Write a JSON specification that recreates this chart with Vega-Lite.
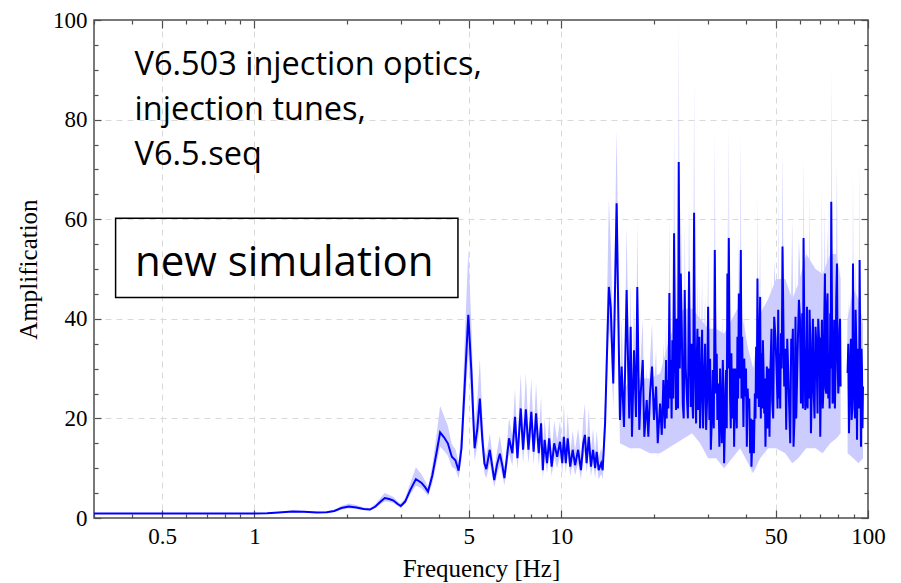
{
  "$schema": "https://vega.github.io/schema/vega-lite/v6.json",
  "width": 774,
  "height": 498,
  "autosize": {"type": "none"},
  "padding": {"left": 94, "top": 20, "right": 33, "bottom": 65},
  "background": "white",
  "config": {
    "view": {"stroke": "#4d4d4d", "strokeWidth": 1.5},
    "axis": {
      "labelFont": "Liberation Serif",
      "titleFont": "Liberation Serif",
      "labelFontSize": 23,
      "titleFontSize": 25,
      "labelColor": "black",
      "titleColor": "black",
      "titleFontWeight": "normal",
      "domain": false,
      "tickColor": "#4d4d4d",
      "tickWidth": 1.2,
      "gridColor": "#d9d9d9",
      "gridDash": [6, 5],
      "gridWidth": 1,
      "labelOverlap": false,
      "labelFlush": false,
      "format": "~r"
    }
  },
  "datasets": {
    "spectrum": [
      {"f": 0.3, "a": 0.9, "lo": 0.8, "hi": 1.0},
      {"f": 0.4, "a": 0.9, "lo": 0.8, "hi": 1.0},
      {"f": 0.5, "a": 0.9, "lo": 0.8, "hi": 1.0},
      {"f": 0.6, "a": 0.9, "lo": 0.8, "hi": 1.0},
      {"f": 0.7, "a": 0.9, "lo": 0.8, "hi": 1.0},
      {"f": 0.8, "a": 0.9, "lo": 0.8, "hi": 1.0},
      {"f": 0.9, "a": 0.9, "lo": 0.8, "hi": 1.0},
      {"f": 1.0, "a": 0.9, "lo": 0.8, "hi": 1.0},
      {"f": 1.1, "a": 0.95, "lo": 0.85, "hi": 1.05},
      {"f": 1.2, "a": 1.1, "lo": 1.0, "hi": 1.25},
      {"f": 1.33, "a": 1.3, "lo": 1.15, "hi": 1.5},
      {"f": 1.45, "a": 1.25, "lo": 1.1, "hi": 1.4},
      {"f": 1.6, "a": 1.1, "lo": 1.0, "hi": 1.25},
      {"f": 1.72, "a": 1.15, "lo": 1.0, "hi": 1.3},
      {"f": 1.82, "a": 1.4, "lo": 1.2, "hi": 1.6},
      {"f": 1.92, "a": 2.0, "lo": 1.7, "hi": 2.4},
      {"f": 2.03, "a": 2.3, "lo": 1.9, "hi": 2.9},
      {"f": 2.15, "a": 2.1, "lo": 1.8, "hi": 2.6},
      {"f": 2.27, "a": 1.8, "lo": 1.6, "hi": 2.1},
      {"f": 2.38, "a": 1.7, "lo": 1.5, "hi": 2.0},
      {"f": 2.48, "a": 2.3, "lo": 2.0, "hi": 2.8},
      {"f": 2.58, "a": 3.3, "lo": 2.8, "hi": 4.1},
      {"f": 2.66, "a": 4.0, "lo": 3.3, "hi": 5.0},
      {"f": 2.75, "a": 3.8, "lo": 3.2, "hi": 4.6},
      {"f": 2.84, "a": 3.5, "lo": 3.0, "hi": 4.2},
      {"f": 2.93, "a": 2.8, "lo": 2.4, "hi": 3.3},
      {"f": 3.0, "a": 2.4, "lo": 2.0, "hi": 2.9},
      {"f": 3.1, "a": 3.3, "lo": 2.8, "hi": 4.0},
      {"f": 3.22, "a": 5.6, "lo": 4.7, "hi": 7.0},
      {"f": 3.36, "a": 7.8, "lo": 6.5, "hi": 10.2},
      {"f": 3.5, "a": 7.1, "lo": 6.0, "hi": 8.8},
      {"f": 3.6, "a": 6.2, "lo": 5.2, "hi": 7.5},
      {"f": 3.68, "a": 5.3, "lo": 4.4, "hi": 6.3},
      {"f": 3.8, "a": 8.5, "lo": 7.0, "hi": 10.5},
      {"f": 3.92, "a": 13.0, "lo": 11.0, "hi": 16.5},
      {"f": 4.03, "a": 17.2, "lo": 14.3, "hi": 22.5},
      {"f": 4.15, "a": 16.2, "lo": 13.5, "hi": 20.5},
      {"f": 4.27, "a": 15.0, "lo": 12.5, "hi": 18.5},
      {"f": 4.4, "a": 12.3, "lo": 10.3, "hi": 14.8},
      {"f": 4.52, "a": 11.6, "lo": 9.8, "hi": 13.8},
      {"f": 4.63, "a": 9.5, "lo": 8.0, "hi": 11.3},
      {"f": 4.73, "a": 14.0, "lo": 11.5, "hi": 18.0},
      {"f": 4.85, "a": 27.0, "lo": 22.0, "hi": 36.0},
      {"f": 4.98, "a": 40.8, "lo": 33.0, "hi": 54.0},
      {"f": 5.1, "a": 29.0, "lo": 23.0, "hi": 38.0},
      {"f": 5.22, "a": 14.0, "lo": 11.5, "hi": 18.0},
      {"f": 5.33, "a": 18.0, "lo": 14.5, "hi": 24.0},
      {"f": 5.43, "a": 24.0, "lo": 19.0, "hi": 32.0},
      {"f": 5.53, "a": 16.0, "lo": 13.0, "hi": 21.0},
      {"f": 5.62, "a": 11.0, "lo": 9.0, "hi": 14.0},
      {"f": 5.7, "a": 9.8, "lo": 8.0, "hi": 12.5},
      {"f": 5.85, "a": 13.7, "lo": 11.0, "hi": 17.0},
      {"f": 6.05, "a": 7.6, "lo": 6.2, "hi": 9.5},
      {"f": 6.18, "a": 10.8, "lo": 8.8, "hi": 13.5},
      {"f": 6.31, "a": 12.9, "lo": 10.5, "hi": 16.5},
      {"f": 6.43, "a": 10.5, "lo": 8.5, "hi": 13.0},
      {"f": 6.53, "a": 8.0, "lo": 6.6, "hi": 10.0},
      {"f": 6.65, "a": 12.0, "lo": 10.0, "hi": 15.0},
      {"f": 6.76, "a": 16.0, "lo": 13.0, "hi": 20.0},
      {"f": 6.93, "a": 13.0, "lo": 10.5, "hi": 16.5},
      {"f": 7.07, "a": 20.3, "lo": 16.5, "hi": 26.0},
      {"f": 7.2, "a": 12.0, "lo": 9.8, "hi": 15.0},
      {"f": 7.38, "a": 22.0, "lo": 18.0, "hi": 29.0},
      {"f": 7.51, "a": 13.7, "lo": 11.0, "hi": 17.5},
      {"f": 7.67, "a": 21.8, "lo": 17.5, "hi": 29.0},
      {"f": 7.82, "a": 13.7, "lo": 11.0, "hi": 17.5},
      {"f": 7.99, "a": 21.3, "lo": 17.0, "hi": 28.0},
      {"f": 8.13, "a": 13.3, "lo": 10.8, "hi": 17.0},
      {"f": 8.28, "a": 21.0, "lo": 17.0, "hi": 27.0},
      {"f": 8.45, "a": 13.0, "lo": 10.5, "hi": 16.5},
      {"f": 8.6, "a": 19.0, "lo": 15.0, "hi": 24.5},
      {"f": 8.71, "a": 9.6, "lo": 7.8, "hi": 12.3},
      {"f": 8.83, "a": 15.7, "lo": 12.7, "hi": 20.0},
      {"f": 8.99, "a": 11.0, "lo": 9.0, "hi": 14.0},
      {"f": 9.14, "a": 16.0, "lo": 13.0, "hi": 20.5},
      {"f": 9.31, "a": 10.3, "lo": 8.4, "hi": 13.0},
      {"f": 9.49, "a": 15.0, "lo": 12.2, "hi": 19.5},
      {"f": 9.7, "a": 12.3, "lo": 10.0, "hi": 15.5},
      {"f": 9.91, "a": 15.3, "lo": 12.5, "hi": 19.5},
      {"f": 10.08, "a": 11.0, "lo": 9.0, "hi": 14.0},
      {"f": 10.2, "a": 16.3, "lo": 13.2, "hi": 23.0},
      {"f": 10.35, "a": 11.0, "lo": 9.0, "hi": 14.0},
      {"f": 10.5, "a": 16.0, "lo": 13.0, "hi": 21.0},
      {"f": 10.7, "a": 10.3, "lo": 8.4, "hi": 13.0},
      {"f": 10.9, "a": 13.7, "lo": 11.0, "hi": 17.5},
      {"f": 11.1, "a": 10.6, "lo": 8.6, "hi": 13.5},
      {"f": 11.35, "a": 13.7, "lo": 11.0, "hi": 18.0},
      {"f": 11.6, "a": 9.6, "lo": 7.8, "hi": 12.3},
      {"f": 11.8, "a": 15.0, "lo": 12.0, "hi": 20.0},
      {"f": 11.95, "a": 16.7, "lo": 13.5, "hi": 23.0},
      {"f": 12.1, "a": 11.0, "lo": 9.0, "hi": 14.0},
      {"f": 12.3, "a": 16.3, "lo": 13.2, "hi": 22.0},
      {"f": 12.5, "a": 10.3, "lo": 8.4, "hi": 13.2},
      {"f": 12.7, "a": 13.7, "lo": 11.0, "hi": 18.0},
      {"f": 12.9, "a": 10.0, "lo": 8.1, "hi": 12.8},
      {"f": 13.05, "a": 13.3, "lo": 10.8, "hi": 17.5},
      {"f": 13.25, "a": 9.6, "lo": 7.8, "hi": 12.3},
      {"f": 13.5, "a": 11.0, "lo": 8.9, "hi": 14.0},
      {"f": 13.65, "a": 9.6, "lo": 7.8, "hi": 12.3},
      {"f": 13.9, "a": 19.0, "lo": 15.4, "hi": 24.0},
      {"f": 14.1, "a": 33.0, "lo": 27.0, "hi": 43.0},
      {"f": 14.3, "a": 46.4, "lo": 38.0, "hi": 64.0},
      {"f": 14.5, "a": 42.4, "lo": 35.0, "hi": 55.0},
      {"f": 14.78, "a": 27.0, "lo": 22.0, "hi": 35.0},
      {"f": 15.16, "a": 63.2, "lo": 51.0, "hi": 78.0},
      {"f": 15.54, "a": 19.7, "lo": 16.0, "hi": 25.0},
      {"f": 15.74, "a": 30.4, "lo": 25.0, "hi": 40.0},
      {"f": 16.02, "a": 18.3, "lo": 15.0, "hi": 23.0},
      {"f": 16.34, "a": 45.8, "lo": 37.0, "hi": 58.5},
      {"f": 16.66, "a": 20.0, "lo": 16.0, "hi": 26.0},
      {"f": 16.84, "a": 38.4, "lo": 31.0, "hi": 48.0},
      {"f": 17.01, "a": 16.3, "lo": 13.0, "hi": 21.0},
      {"f": 17.27, "a": 33.7, "lo": 27.0, "hi": 43.0},
      {"f": 17.53, "a": 20.3, "lo": 16.5, "hi": 26.0},
      {"f": 17.7, "a": 46.4, "lo": 37.5, "hi": 59.5},
      {"f": 17.97, "a": 17.7, "lo": 14.3, "hi": 22.5},
      {"f": 18.16, "a": 25.0, "lo": 20.0, "hi": 32.0},
      {"f": 18.44, "a": 31.7, "lo": 25.5, "hi": 40.0},
      {"f": 18.66, "a": 16.3, "lo": 13.0, "hi": 21.0},
      {"f": 19.0, "a": 23.7, "lo": 19.0, "hi": 30.0},
      {"f": 19.23, "a": 16.3, "lo": 13.0, "hi": 21.0},
      {"f": 19.48, "a": 25.1, "lo": 20.3, "hi": 32.0},
      {"f": 19.77, "a": 30.4, "lo": 24.6, "hi": 39.0},
      {"f": 20.07, "a": 19.7, "lo": 16.0, "hi": 25.0},
      {"f": 20.38, "a": 26.4, "lo": 21.4, "hi": 34.0},
      {"f": 20.64, "a": 15.0, "lo": 12.0, "hi": 19.0},
      {"f": 21.0, "a": 23.0, "lo": 18.6, "hi": 29.5},
      {"f": 21.27, "a": 16.7, "lo": 13.5, "hi": 21.5},
      {"f": 21.53, "a": 27.7, "lo": 22.4, "hi": 35.5},
      {"f": 21.75, "a": 18.0, "lo": 14.5, "hi": 23.0},
      {"f": 21.97, "a": 31.7, "lo": 25.6, "hi": 40.5},
      {"f": 22.07, "a": 20.0, "lo": 16.0, "hi": 25.5},
      {"f": 22.18, "a": 27.7, "lo": 22.4, "hi": 35.5},
      {"f": 22.35, "a": 22.0, "lo": 17.8, "hi": 28.0},
      {"f": 22.52, "a": 45.2, "lo": 36.5, "hi": 61.8},
      {"f": 22.64, "a": 24.0, "lo": 19.4, "hi": 30.5},
      {"f": 22.76, "a": 31.7, "lo": 25.6, "hi": 40.5},
      {"f": 22.9, "a": 20.0, "lo": 16.0, "hi": 25.5},
      {"f": 23.03, "a": 35.7, "lo": 29.0, "hi": 46.0},
      {"f": 23.18, "a": 24.0, "lo": 19.4, "hi": 30.5},
      {"f": 23.33, "a": 57.2, "lo": 46.0, "hi": 78.9},
      {"f": 23.5, "a": 33.0, "lo": 26.7, "hi": 42.0},
      {"f": 23.68, "a": 21.7, "lo": 17.5, "hi": 28.0},
      {"f": 23.8, "a": 40.0, "lo": 32.4, "hi": 51.0},
      {"f": 23.91, "a": 30.4, "lo": 24.6, "hi": 39.0},
      {"f": 24.03, "a": 22.0, "lo": 17.8, "hi": 28.0},
      {"f": 24.16, "a": 71.5, "lo": 58.0, "hi": 100.0},
      {"f": 24.35, "a": 30.0, "lo": 24.3, "hi": 38.3},
      {"f": 24.53, "a": 49.1, "lo": 40.0, "hi": 63.0},
      {"f": 24.72, "a": 38.0, "lo": 30.8, "hi": 48.5},
      {"f": 24.9, "a": 23.0, "lo": 18.6, "hi": 29.5},
      {"f": 25.08, "a": 20.0, "lo": 16.0, "hi": 25.5},
      {"f": 25.27, "a": 45.8, "lo": 37.0, "hi": 59.0},
      {"f": 25.46, "a": 30.0, "lo": 24.3, "hi": 38.3},
      {"f": 25.66, "a": 25.0, "lo": 20.0, "hi": 32.0},
      {"f": 25.88, "a": 20.0, "lo": 16.0, "hi": 25.5},
      {"f": 26.1, "a": 49.5, "lo": 40.0, "hi": 64.0},
      {"f": 26.27, "a": 33.0, "lo": 26.7, "hi": 42.0},
      {"f": 26.44, "a": 22.3, "lo": 18.0, "hi": 28.5},
      {"f": 26.57, "a": 35.0, "lo": 28.3, "hi": 44.6},
      {"f": 26.7, "a": 24.4, "lo": 19.7, "hi": 31.0},
      {"f": 26.9, "a": 20.0, "lo": 16.0, "hi": 25.5},
      {"f": 27.11, "a": 61.3, "lo": 49.6, "hi": 88.0},
      {"f": 27.24, "a": 38.0, "lo": 30.8, "hi": 48.5},
      {"f": 27.37, "a": 26.4, "lo": 21.4, "hi": 34.0},
      {"f": 27.52, "a": 19.0, "lo": 15.4, "hi": 24.2},
      {"f": 27.66, "a": 31.7, "lo": 25.6, "hi": 40.5},
      {"f": 27.8, "a": 38.0, "lo": 30.8, "hi": 48.5},
      {"f": 27.93, "a": 21.7, "lo": 17.5, "hi": 28.0},
      {"f": 28.06, "a": 27.0, "lo": 21.9, "hi": 34.4},
      {"f": 28.2, "a": 36.4, "lo": 29.5, "hi": 46.5},
      {"f": 28.35, "a": 18.0, "lo": 14.5, "hi": 23.0},
      {"f": 28.51, "a": 23.7, "lo": 19.0, "hi": 30.5},
      {"f": 28.65, "a": 30.0, "lo": 24.3, "hi": 38.3},
      {"f": 28.79, "a": 37.8, "lo": 30.6, "hi": 48.5},
      {"f": 29.0, "a": 18.0, "lo": 14.5, "hi": 23.0},
      {"f": 29.22, "a": 27.7, "lo": 22.4, "hi": 35.5},
      {"f": 29.45, "a": 35.0, "lo": 28.3, "hi": 44.6},
      {"f": 29.67, "a": 17.7, "lo": 14.3, "hi": 22.7},
      {"f": 29.9, "a": 24.0, "lo": 19.4, "hi": 30.5},
      {"f": 30.12, "a": 42.4, "lo": 34.3, "hi": 54.0},
      {"f": 30.27, "a": 28.0, "lo": 22.7, "hi": 35.7},
      {"f": 30.41, "a": 19.7, "lo": 16.0, "hi": 25.0},
      {"f": 30.57, "a": 32.0, "lo": 25.9, "hi": 40.8},
      {"f": 30.74, "a": 13.7, "lo": 11.0, "hi": 17.5},
      {"f": 30.97, "a": 20.0, "lo": 16.0, "hi": 25.5},
      {"f": 31.2, "a": 29.7, "lo": 24.0, "hi": 38.0},
      {"f": 31.43, "a": 18.0, "lo": 14.5, "hi": 23.0},
      {"f": 31.67, "a": 53.8, "lo": 43.5, "hi": 78.0},
      {"f": 31.82, "a": 35.0, "lo": 28.3, "hi": 44.6},
      {"f": 31.98, "a": 25.0, "lo": 20.0, "hi": 32.0},
      {"f": 32.13, "a": 33.0, "lo": 26.7, "hi": 42.0},
      {"f": 32.29, "a": 19.7, "lo": 16.0, "hi": 25.0},
      {"f": 32.53, "a": 27.0, "lo": 21.9, "hi": 34.4},
      {"f": 32.78, "a": 14.3, "lo": 11.6, "hi": 18.3},
      {"f": 32.95, "a": 30.0, "lo": 24.3, "hi": 38.3},
      {"f": 33.13, "a": 23.0, "lo": 18.6, "hi": 29.5},
      {"f": 33.38, "a": 15.0, "lo": 12.1, "hi": 19.1},
      {"f": 33.63, "a": 31.7, "lo": 25.6, "hi": 40.5},
      {"f": 33.8, "a": 26.0, "lo": 21.0, "hi": 33.2},
      {"f": 33.96, "a": 11.0, "lo": 8.9, "hi": 14.0},
      {"f": 34.21, "a": 20.0, "lo": 16.0, "hi": 25.5},
      {"f": 34.47, "a": 29.7, "lo": 24.0, "hi": 38.0},
      {"f": 34.64, "a": 18.0, "lo": 14.5, "hi": 23.0},
      {"f": 34.81, "a": 49.1, "lo": 39.7, "hi": 63.0},
      {"f": 35.0, "a": 30.0, "lo": 24.3, "hi": 38.3},
      {"f": 35.18, "a": 56.2, "lo": 45.5, "hi": 79.0},
      {"f": 35.35, "a": 38.0, "lo": 30.8, "hi": 48.5},
      {"f": 35.52, "a": 24.4, "lo": 19.7, "hi": 31.0},
      {"f": 35.7, "a": 18.0, "lo": 14.5, "hi": 23.0},
      {"f": 35.87, "a": 33.1, "lo": 26.8, "hi": 42.4},
      {"f": 36.06, "a": 20.0, "lo": 16.0, "hi": 25.5},
      {"f": 36.25, "a": 26.4, "lo": 21.4, "hi": 34.0},
      {"f": 36.43, "a": 30.0, "lo": 24.3, "hi": 38.3},
      {"f": 36.61, "a": 14.3, "lo": 11.6, "hi": 18.3},
      {"f": 36.89, "a": 30.0, "lo": 24.3, "hi": 38.3},
      {"f": 37.17, "a": 22.3, "lo": 18.0, "hi": 28.5},
      {"f": 37.35, "a": 18.0, "lo": 14.5, "hi": 23.0},
      {"f": 37.53, "a": 36.4, "lo": 29.5, "hi": 46.5},
      {"f": 37.73, "a": 24.0, "lo": 19.4, "hi": 30.5},
      {"f": 37.93, "a": 45.1, "lo": 36.5, "hi": 57.7},
      {"f": 38.2, "a": 28.0, "lo": 22.7, "hi": 35.7},
      {"f": 38.5, "a": 53.8, "lo": 43.5, "hi": 77.6},
      {"f": 38.69, "a": 24.0, "lo": 19.4, "hi": 30.5},
      {"f": 38.88, "a": 36.4, "lo": 29.5, "hi": 46.5},
      {"f": 39.07, "a": 28.0, "lo": 22.7, "hi": 35.7},
      {"f": 39.26, "a": 18.3, "lo": 14.8, "hi": 23.4},
      {"f": 39.5, "a": 32.0, "lo": 25.9, "hi": 40.8},
      {"f": 39.77, "a": 24.4, "lo": 19.7, "hi": 31.0},
      {"f": 40.02, "a": 30.0, "lo": 24.3, "hi": 38.3},
      {"f": 40.28, "a": 14.3, "lo": 11.6, "hi": 18.3},
      {"f": 40.52, "a": 26.0, "lo": 21.0, "hi": 33.2},
      {"f": 40.76, "a": 22.3, "lo": 18.0, "hi": 28.5},
      {"f": 41.02, "a": 24.0, "lo": 19.4, "hi": 30.5},
      {"f": 41.29, "a": 13.0, "lo": 10.5, "hi": 16.6},
      {"f": 41.5, "a": 20.0, "lo": 16.0, "hi": 25.5},
      {"f": 41.7, "a": 10.3, "lo": 8.3, "hi": 13.2},
      {"f": 41.92, "a": 15.0, "lo": 12.1, "hi": 19.1},
      {"f": 42.14, "a": 19.7, "lo": 16.0, "hi": 25.0},
      {"f": 42.46, "a": 13.0, "lo": 10.5, "hi": 16.6},
      {"f": 42.78, "a": 25.0, "lo": 20.0, "hi": 32.0},
      {"f": 42.98, "a": 20.0, "lo": 16.0, "hi": 25.5},
      {"f": 43.19, "a": 34.4, "lo": 27.8, "hi": 44.0},
      {"f": 43.4, "a": 24.0, "lo": 19.4, "hi": 30.5},
      {"f": 43.62, "a": 48.1, "lo": 39.0, "hi": 65.0},
      {"f": 43.85, "a": 30.0, "lo": 24.3, "hi": 38.3},
      {"f": 44.08, "a": 22.3, "lo": 18.0, "hi": 28.5},
      {"f": 44.3, "a": 36.0, "lo": 29.2, "hi": 46.0},
      {"f": 44.51, "a": 44.4, "lo": 36.0, "hi": 56.8},
      {"f": 44.73, "a": 20.0, "lo": 16.0, "hi": 25.5},
      {"f": 44.95, "a": 33.1, "lo": 26.8, "hi": 42.4},
      {"f": 45.19, "a": 22.0, "lo": 17.8, "hi": 28.0},
      {"f": 45.43, "a": 35.7, "lo": 28.9, "hi": 45.7},
      {"f": 45.65, "a": 30.0, "lo": 24.3, "hi": 38.3},
      {"f": 45.88, "a": 21.0, "lo": 17.0, "hi": 27.0},
      {"f": 46.1, "a": 28.0, "lo": 22.7, "hi": 35.7},
      {"f": 46.32, "a": 14.3, "lo": 11.6, "hi": 18.3},
      {"f": 46.56, "a": 22.0, "lo": 17.8, "hi": 28.0},
      {"f": 46.81, "a": 30.4, "lo": 24.6, "hi": 39.0},
      {"f": 47.04, "a": 18.0, "lo": 14.5, "hi": 23.0},
      {"f": 47.27, "a": 25.0, "lo": 20.0, "hi": 32.0},
      {"f": 47.5, "a": 30.0, "lo": 24.3, "hi": 38.3},
      {"f": 47.74, "a": 16.3, "lo": 13.2, "hi": 20.9},
      {"f": 47.99, "a": 28.0, "lo": 22.7, "hi": 35.7},
      {"f": 48.24, "a": 33.1, "lo": 26.8, "hi": 42.4},
      {"f": 48.47, "a": 38.0, "lo": 30.8, "hi": 48.5},
      {"f": 48.71, "a": 23.7, "lo": 19.2, "hi": 30.3},
      {"f": 49.08, "a": 20.0, "lo": 16.0, "hi": 25.5},
      {"f": 49.45, "a": 40.4, "lo": 32.7, "hi": 51.7},
      {"f": 49.96, "a": 36.0, "lo": 29.2, "hi": 46.0},
      {"f": 50.47, "a": 27.7, "lo": 22.4, "hi": 35.5},
      {"f": 50.72, "a": 22.0, "lo": 17.8, "hi": 28.0},
      {"f": 50.97, "a": 41.8, "lo": 33.8, "hi": 68.0},
      {"f": 51.22, "a": 24.0, "lo": 19.4, "hi": 30.5},
      {"f": 51.47, "a": 33.1, "lo": 26.8, "hi": 42.4},
      {"f": 51.74, "a": 22.0, "lo": 17.8, "hi": 28.0},
      {"f": 52.02, "a": 37.1, "lo": 30.0, "hi": 47.5},
      {"f": 52.33, "a": 30.0, "lo": 24.3, "hi": 38.3},
      {"f": 52.64, "a": 54.5, "lo": 44.0, "hi": 74.0},
      {"f": 52.98, "a": 40.0, "lo": 32.4, "hi": 51.0},
      {"f": 53.32, "a": 26.4, "lo": 21.4, "hi": 34.0},
      {"f": 53.72, "a": 34.0, "lo": 27.5, "hi": 43.4},
      {"f": 54.13, "a": 17.7, "lo": 14.3, "hi": 22.7},
      {"f": 54.54, "a": 36.0, "lo": 29.2, "hi": 46.0},
      {"f": 54.95, "a": 29.7, "lo": 24.0, "hi": 38.0},
      {"f": 55.36, "a": 22.0, "lo": 17.8, "hi": 28.0},
      {"f": 55.78, "a": 15.0, "lo": 12.0, "hi": 19.2},
      {"f": 56.2, "a": 36.0, "lo": 29.2, "hi": 46.0},
      {"f": 56.62, "a": 34.4, "lo": 27.8, "hi": 60.0},
      {"f": 56.9, "a": 38.0, "lo": 30.8, "hi": 48.5},
      {"f": 57.18, "a": 14.3, "lo": 11.6, "hi": 18.3},
      {"f": 57.61, "a": 20.0, "lo": 16.0, "hi": 25.5},
      {"f": 58.04, "a": 40.4, "lo": 32.7, "hi": 51.7},
      {"f": 58.35, "a": 20.0, "lo": 16.0, "hi": 25.5},
      {"f": 58.66, "a": 26.4, "lo": 21.4, "hi": 34.0},
      {"f": 59.1, "a": 36.0, "lo": 29.2, "hi": 46.0},
      {"f": 59.55, "a": 43.8, "lo": 35.5, "hi": 56.0},
      {"f": 60.0, "a": 40.0, "lo": 32.4, "hi": 51.0},
      {"f": 60.45, "a": 23.0, "lo": 18.6, "hi": 29.5},
      {"f": 60.75, "a": 30.0, "lo": 24.3, "hi": 38.3},
      {"f": 61.05, "a": 41.1, "lo": 33.3, "hi": 52.6},
      {"f": 61.35, "a": 22.0, "lo": 17.8, "hi": 28.0},
      {"f": 61.65, "a": 56.2, "lo": 45.5, "hi": 72.6},
      {"f": 62.04, "a": 36.0, "lo": 29.2, "hi": 46.0},
      {"f": 62.44, "a": 21.7, "lo": 17.5, "hi": 27.8},
      {"f": 62.84, "a": 24.0, "lo": 19.4, "hi": 30.5},
      {"f": 63.24, "a": 42.4, "lo": 34.3, "hi": 54.3},
      {"f": 63.55, "a": 22.0, "lo": 17.8, "hi": 28.0},
      {"f": 63.86, "a": 32.4, "lo": 26.2, "hi": 41.5},
      {"f": 64.17, "a": 24.0, "lo": 19.4, "hi": 30.5},
      {"f": 64.49, "a": 41.8, "lo": 33.8, "hi": 65.9},
      {"f": 64.83, "a": 36.0, "lo": 29.2, "hi": 46.0},
      {"f": 65.17, "a": 17.0, "lo": 13.8, "hi": 21.8},
      {"f": 65.49, "a": 24.0, "lo": 19.4, "hi": 30.5},
      {"f": 65.81, "a": 33.1, "lo": 26.8, "hi": 42.4},
      {"f": 66.13, "a": 40.0, "lo": 32.4, "hi": 51.0},
      {"f": 66.45, "a": 26.4, "lo": 21.4, "hi": 34.0},
      {"f": 66.95, "a": 20.0, "lo": 16.0, "hi": 25.5},
      {"f": 67.45, "a": 38.4, "lo": 31.0, "hi": 49.0},
      {"f": 67.96, "a": 34.0, "lo": 27.5, "hi": 43.4},
      {"f": 68.47, "a": 21.0, "lo": 17.0, "hi": 27.0},
      {"f": 68.83, "a": 40.0, "lo": 32.4, "hi": 51.0},
      {"f": 69.2, "a": 36.4, "lo": 29.5, "hi": 46.5},
      {"f": 69.54, "a": 36.0, "lo": 29.2, "hi": 46.0},
      {"f": 69.88, "a": 16.3, "lo": 13.2, "hi": 20.9},
      {"f": 70.32, "a": 30.0, "lo": 24.3, "hi": 38.3},
      {"f": 70.77, "a": 39.8, "lo": 32.2, "hi": 67.0},
      {"f": 71.2, "a": 22.0, "lo": 17.8, "hi": 28.0},
      {"f": 71.63, "a": 26.4, "lo": 21.4, "hi": 34.0},
      {"f": 72.01, "a": 40.0, "lo": 32.4, "hi": 51.0},
      {"f": 72.39, "a": 49.1, "lo": 39.7, "hi": 62.8},
      {"f": 72.74, "a": 26.0, "lo": 21.0, "hi": 33.2},
      {"f": 73.1, "a": 25.0, "lo": 20.0, "hi": 32.0},
      {"f": 73.45, "a": 42.0, "lo": 34.0, "hi": 53.6},
      {"f": 73.81, "a": 45.1, "lo": 36.5, "hi": 57.7},
      {"f": 74.2, "a": 24.0, "lo": 19.4, "hi": 30.5},
      {"f": 74.6, "a": 33.1, "lo": 26.8, "hi": 66.5},
      {"f": 74.96, "a": 22.0, "lo": 17.8, "hi": 28.0},
      {"f": 75.33, "a": 41.1, "lo": 33.3, "hi": 52.6},
      {"f": 75.6, "a": 30.0, "lo": 24.3, "hi": 38.3},
      {"f": 75.9, "a": 63.5, "lo": 51.4, "hi": 90.6},
      {"f": 76.27, "a": 44.0, "lo": 35.6, "hi": 56.2},
      {"f": 76.64, "a": 23.0, "lo": 18.6, "hi": 29.5},
      {"f": 77.13, "a": 24.0, "lo": 19.4, "hi": 30.5},
      {"f": 77.62, "a": 39.8, "lo": 32.2, "hi": 51.0},
      {"f": 78.0, "a": 22.0, "lo": 17.8, "hi": 28.0},
      {"f": 78.39, "a": 29.7, "lo": 24.0, "hi": 38.0},
      {"f": 78.8, "a": 44.0, "lo": 35.6, "hi": 56.2},
      {"f": 79.22, "a": 51.1, "lo": 41.4, "hi": 71.2},
      {"f": 79.61, "a": 32.0, "lo": 25.9, "hi": 40.8},
      {"f": 80.0, "a": 25.0, "lo": 20.0, "hi": 32.0},
      {"f": 80.39, "a": 28.0, "lo": 22.7, "hi": 35.7},
      {"f": 80.78, "a": 37.8, "lo": 30.6, "hi": 48.4},
      {"f": 81.09, "a": 40.0, "lo": 32.4, "hi": 51.0},
      {"f": 81.4, "a": 26.4, "lo": 21.4, "hi": 34.0},
      {"f": 83.5, "a": null, "lo": null, "hi": null},
      {"f": 85.79, "a": 29.1, "lo": 23.6, "hi": 37.2},
      {"f": 86.25, "a": 35.0, "lo": 28.3, "hi": 44.6},
      {"f": 86.7, "a": 17.0, "lo": 13.8, "hi": 21.8},
      {"f": 87.12, "a": 25.0, "lo": 20.0, "hi": 32.0},
      {"f": 87.55, "a": 31.7, "lo": 25.6, "hi": 40.6},
      {"f": 87.98, "a": 36.0, "lo": 29.2, "hi": 46.0},
      {"f": 88.42, "a": 19.7, "lo": 16.0, "hi": 25.2},
      {"f": 88.88, "a": 22.0, "lo": 17.8, "hi": 28.0},
      {"f": 89.35, "a": 51.1, "lo": 41.4, "hi": 68.9},
      {"f": 89.79, "a": 30.0, "lo": 24.3, "hi": 38.3},
      {"f": 90.23, "a": 24.4, "lo": 19.7, "hi": 31.2},
      {"f": 90.67, "a": 20.0, "lo": 16.0, "hi": 25.5},
      {"f": 91.11, "a": 41.8, "lo": 33.8, "hi": 53.5},
      {"f": 91.6, "a": 35.0, "lo": 28.3, "hi": 44.6},
      {"f": 92.08, "a": 15.7, "lo": 12.7, "hi": 20.1},
      {"f": 92.63, "a": 34.0, "lo": 27.5, "hi": 43.4},
      {"f": 93.19, "a": 33.1, "lo": 26.8, "hi": 42.4},
      {"f": 93.55, "a": 22.0, "lo": 17.8, "hi": 28.0},
      {"f": 93.9, "a": 51.8, "lo": 42.0, "hi": 71.9},
      {"f": 94.4, "a": 30.0, "lo": 24.3, "hi": 38.3},
      {"f": 94.89, "a": 14.3, "lo": 11.6, "hi": 18.3},
      {"f": 95.25, "a": 34.0, "lo": 27.5, "hi": 43.4},
      {"f": 95.6, "a": 29.7, "lo": 24.0, "hi": 38.0},
      {"f": 95.95, "a": 18.0, "lo": 14.5, "hi": 23.0},
      {"f": 96.31, "a": 26.4, "lo": 21.4, "hi": 34.0}
    ],
    "envelope": [
      {"f": 15.54, "blo": 15, "bhi": 24},
      {"f": 16.76, "blo": 14, "bhi": 28},
      {"f": 18.07, "blo": 14, "bhi": 28},
      {"f": 19.48, "blo": 13, "bhi": 28},
      {"f": 21.0, "blo": 13, "bhi": 29},
      {"f": 22.29, "blo": 14, "bhi": 35},
      {"f": 23.68, "blo": 15, "bhi": 40},
      {"f": 25.14, "blo": 16, "bhi": 42},
      {"f": 26.71, "blo": 17, "bhi": 42},
      {"f": 28.36, "blo": 15, "bhi": 40},
      {"f": 30.12, "blo": 12, "bhi": 38},
      {"f": 31.98, "blo": 12, "bhi": 38},
      {"f": 33.96, "blo": 10, "bhi": 37},
      {"f": 36.06, "blo": 12, "bhi": 40},
      {"f": 38.3, "blo": 14, "bhi": 43},
      {"f": 40.67, "blo": 11, "bhi": 34},
      {"f": 42.24, "blo": 9, "bhi": 30},
      {"f": 44.51, "blo": 12, "bhi": 41},
      {"f": 47.27, "blo": 14, "bhi": 44},
      {"f": 50.2, "blo": 14, "bhi": 48},
      {"f": 53.72, "blo": 13, "bhi": 48},
      {"f": 56.62, "blo": 11, "bhi": 44},
      {"f": 59.24, "blo": 12, "bhi": 47},
      {"f": 62.9, "blo": 14, "bhi": 53},
      {"f": 67.45, "blo": 14, "bhi": 50},
      {"f": 71.09, "blo": 13, "bhi": 49},
      {"f": 75.34, "blo": 15, "bhi": 53},
      {"f": 78.98, "blo": 16, "bhi": 53},
      {"f": 81.4, "blo": 17, "bhi": 48},
      {"f": 83.5, "blo": null, "bhi": null},
      {"f": 85.79, "blo": 13, "bhi": 40},
      {"f": 89.57, "blo": 12, "bhi": 46},
      {"f": 93.05, "blo": 11, "bhi": 44},
      {"f": 96.31, "blo": 12, "bhi": 39}
    ],
    "notes": [
      {"f": 0.4067, "amp": 88.96, "label": "V6.503 injection optics,"},
      {"f": 0.4067, "amp": 79.9, "label": "injection tunes,"},
      {"f": 0.4067, "amp": 70.9, "label": "V6.5.seq"}
    ],
    "boxes": [
      {"f1": 0.3528, "f2": 4.607, "a1": 44.3, "a2": 60.2, "f": 1.251, "amp": 48.6, "label": "new simulation"}
    ]
  },
  "layer": [
    {
      "data": {"name": "spectrum"},
      "mark": {"type": "area", "color": "#ccccff", "invalid": "break-paths-show-domains"},
      "encoding": {
        "x": {
          "field": "f", "type": "quantitative",
          "scale": {"type": "log", "domain": [0.3, 100], "nice": false},
          "axis": {
            "orient": "bottom",
            "title": "Frequency [Hz]",
            "values": [0.3, 0.4, 0.5, 0.6, 0.7, 0.8, 0.9, 1, 2, 3, 4, 5, 6, 7, 8, 9, 10, 20, 30, 40, 50, 60, 70, 80, 90, 100],
            "labelExpr": "indexof([0.5, 1, 5, 10, 50, 100], datum.value) >= 0 ? datum.label : ''",
            "tickSize": {"condition": {"test": "indexof([0.5, 1, 5, 10, 50, 100], datum.value) >= 0", "value": -8}, "value": -4},
            "grid": true,
            "gridOpacity": {"condition": {"test": "indexof([0.5, 1, 5, 10, 50], datum.value) >= 0", "value": 1}, "value": 0},
            "labelPadding": 15,
            "titlePadding": 4
          }
        },
        "y": {
          "field": "lo", "type": "quantitative",
          "scale": {"domain": [0, 100], "nice": false},
          "axis": {
            "orient": "left",
            "title": "Amplification",
            "values": [0, 5, 10, 15, 20, 25, 30, 35, 40, 45, 50, 55, 60, 65, 70, 75, 80, 85, 90, 95, 100],
            "labelExpr": "datum.value % 20 == 0 ? datum.label : ''",
            "tickSize": {"condition": {"test": "datum.value % 20 == 0", "value": -7}, "value": -4},
            "grid": true,
            "gridOpacity": {"condition": {"test": "datum.value % 20 == 0 && datum.value > 0 && datum.value < 100", "value": 1}, "value": 0},
            "labelPadding": 14,
            "titlePadding": 11
          }
        },
        "y2": {"field": "hi"}
      }
    },
    {
      "data": {"name": "envelope"},
      "mark": {"type": "area", "color": "#ccccff", "invalid": "break-paths-show-domains"},
      "encoding": {
        "x": {"field": "f", "type": "quantitative", "scale": {"type": "log", "domain": [0.3, 100], "nice": false}, "axis": null},
        "y": {"field": "blo", "type": "quantitative", "scale": {"domain": [0, 100], "nice": false}, "axis": null},
        "y2": {"field": "bhi"}
      }
    },
    {
      "data": {"name": "spectrum"},
      "mark": {"type": "line", "color": "#0000ff", "strokeWidth": 2, "invalid": "break-paths-show-domains"},
      "encoding": {
        "x": {
          "field": "f", "type": "quantitative",
          "scale": {"type": "log", "domain": [0.3, 100], "nice": false},
          "axis": {
            "orient": "top",
            "title": null,
            "labels": false,
            "grid": false,
            "values": [0.3, 0.4, 0.5, 0.6, 0.7, 0.8, 0.9, 1, 2, 3, 4, 5, 6, 7, 8, 9, 10, 20, 30, 40, 50, 60, 70, 80, 90, 100],
            "tickSize": {"condition": {"test": "indexof([0.5, 1, 5, 10, 50, 100], datum.value) >= 0", "value": -8}, "value": -4}
          }
        },
        "y": {
          "field": "a", "type": "quantitative",
          "scale": {"domain": [0, 100], "nice": false},
          "axis": {
            "orient": "right",
            "title": null,
            "labels": false,
            "grid": false,
            "values": [0, 5, 10, 15, 20, 25, 30, 35, 40, 45, 50, 55, 60, 65, 70, 75, 80, 85, 90, 95, 100],
            "tickSize": {"condition": {"test": "datum.value % 20 == 0", "value": -7}, "value": -4}
          }
        }
      }
    },
    {
      "data": {"name": "boxes"},
      "mark": {"type": "rect", "filled": false, "stroke": "black", "strokeWidth": 1.5},
      "encoding": {
        "x": {"field": "f1", "type": "quantitative", "scale": {"type": "log", "domain": [0.3, 100], "nice": false}, "axis": null},
        "x2": {"field": "f2"},
        "y": {"field": "a1", "type": "quantitative", "scale": {"domain": [0, 100], "nice": false}, "axis": null},
        "y2": {"field": "a2"}
      }
    },
    {
      "data": {"name": "boxes"},
      "mark": {"type": "text", "font": "Open Sans", "fontSize": 42, "align": "center", "baseline": "alphabetic", "color": "black"},
      "encoding": {
        "x": {"field": "f", "type": "quantitative", "scale": {"type": "log", "domain": [0.3, 100], "nice": false}, "axis": null},
        "y": {"field": "amp", "type": "quantitative", "scale": {"domain": [0, 100], "nice": false}, "axis": null},
        "text": {"field": "label"}
      }
    },
    {
      "data": {"name": "notes"},
      "mark": {"type": "text", "font": "Open Sans", "fontSize": 32.5, "align": "left", "baseline": "alphabetic", "color": "black"},
      "encoding": {
        "x": {"field": "f", "type": "quantitative", "scale": {"type": "log", "domain": [0.3, 100], "nice": false}, "axis": null},
        "y": {"field": "amp", "type": "quantitative", "scale": {"domain": [0, 100], "nice": false}, "axis": null},
        "text": {"field": "label"}
      }
    }
  ],
  "resolve": {"axis": {"x": "independent", "y": "independent"}}
}
